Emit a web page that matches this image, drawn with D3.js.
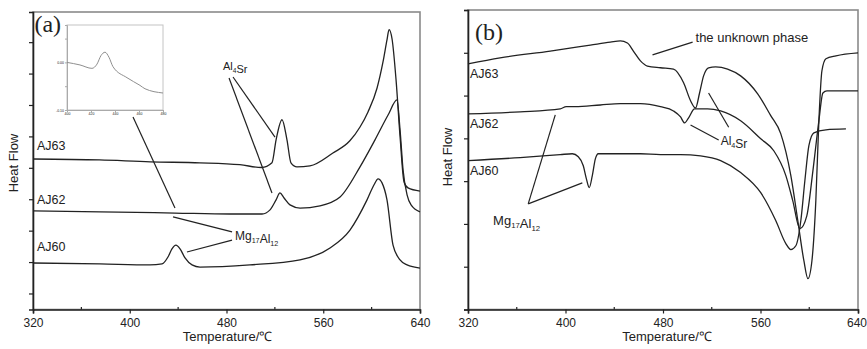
<!DOCTYPE html>
<html>
<head>
<meta charset="utf-8">
<script src="https://cdn.jsdelivr.net/npm/d3@7"></script>
<style>
  body { margin: 0; background: #fff; }
  svg { display: block; }
  text { font-family: "Liberation Sans", Arial, sans-serif; fill: #222; }
</style>
</head>
<body>
<svg id="chart" width="867" height="349"></svg>
<script>
// ---- data (temperature in C, heat flow in arbitrary units) ----
const xTicks = [320, 400, 480, 560, 640];
const xMinorTicks = [360, 440, 520, 600];
const yTicksA = [0, 10, 20, 30, 40, 50, 60, 70, 80];
const yTicksB = [0, 10, 20, 30, 40, 50, 60, 70];

// panel (a)
const a_AJ63 = [[320,42.8],[375,42.5],[417,41.9],[458,41.6],[491,41.0],[509,40.1],[517.6,41.6],[521,48.9],[525.9,55.3],[530,48.9],[533.3,41.6],[538.3,40.3],[549,40.6],[568,44.7],[582,48.6],[590.4,53.0],[597,57.8],[604.5,65.4],[609.4,73.7],[612.7,80.7],[614.4,84.0],[616.9,81],[620.2,68],[623.5,50],[626.8,35.5],[630.1,33.6],[640,32.6]];
const a_AJ62 = [[320,26.3],[375.4,26.0],[437.4,25.6],[482.9,25.3],[509.4,25.3],[516,26.6],[521,29.8],[524.2,32.0],[527.6,30.4],[532.5,28.2],[540.8,27.2],[557.3,27.9],[573.9,30.7],[590.4,40.3],[602.8,48.9],[613.6,56.8],[621,61.6],[623.5,52.1],[626,39.3],[629.3,31.4],[632.6,28.2],[640,26.0]];
const a_AJ60 = [[320,9.7],[375.4,9.4],[416.7,9.1],[426.7,9.4],[431.6,11.6],[434.9,14.2],[438.2,15.4],[441.6,14.2],[445.7,11.3],[451.5,9.1],[458.1,8.4],[499.4,9.1],[540.8,10.7],[565.6,14.5],[582.1,20.2],[596.2,29.8],[602,34.6],[605.3,36.5],[608.6,35.2],[612.7,29.8],[617.7,15.4],[623.5,10.7],[629.3,9.1],[640,8.1]];

// inset of panel (a)
const insetT = [400, 410.8, 420.8, 425, 428.3, 431.7, 435, 438.3, 450, 460.8, 465, 480];
const insetV = [5.6, 5.3, 4.9, 5.4, 6.4, 6.8, 6.2, 5.1, 3.8, 2.9, 2.5, 2.0];
const insetXTicks = [400, 420, 440, 460, 480];

// panel (b)
const b_AJ63 = [[320,57.4],[346.3,58.8],[387.5,60.4],[420.4,61.8],[436.8,62.5],[445,62.8],[450.8,62.3],[455.7,60.4],[461.5,58.1],[467.2,56.9],[477.9,56.5],[488.6,56.2],[496.9,53.0],[502.6,48.8],[506.7,47.1],[510,50.6],[513.3,54.6],[517.4,56.5],[523.2,56.7],[533,56.2],[543.7,54.6],[557.7,50.4],[568.4,45.3],[576.6,41.1],[584.9,31.3],[590.6,20.8],[595.6,11.4],[598.9,7.2],[602.2,11.4],[605.4,25.4],[607.9,44.1],[610.4,55.8],[613.7,58.6],[621.9,59.3],[640,60.0]];
const b_AJ62 = [[320,45.7],[362.8,46.2],[395.7,46.9],[400.6,47.4],[408,47.4],[428.6,47.8],[445,48.1],[461.5,48.1],[477.9,47.4],[488.6,46.4],[494.4,45.0],[497.7,43.6],[501,44.8],[505.9,46.9],[516.6,46.9],[527.3,46.4],[543.7,44.1],[560.2,39.9],[570.9,37.1],[580.8,31.3],[586.5,25.4],[592.3,18.9],[598,21.9],[603,32.4],[607.9,44.1],[611.2,50.6],[614.5,51.1],[640,51.1]];
const b_AJ60 = [[320,34.8],[362.8,35.5],[395.7,36.2],[405.6,36.4],[410.5,35.7],[414.6,33.6],[417.1,30.6],[419.5,28.5],[422,31.3],[424.5,35.2],[426.9,36.4],[445,36.4],[461.5,36.4],[477.9,36.2],[494.4,36.2],[510.8,35.9],[527.3,34.8],[543.7,32.0],[560.2,27.3],[572.5,20.8],[580.8,15.4],[584.9,14.0],[589,14.9],[593.1,20.8],[596.4,30.1],[599.7,38.3],[603.8,41.3],[613.7,42.0],[630.1,42.2]];

const svg = d3.select('#chart');
const ink = '#222';

function drawPanel(p) {
  const x = d3.scaleLinear().domain([320, 640]).range([p.left, p.right]);
  const y = d3.scaleLinear().domain(p.yDomain).range([p.bottom, p.top]);
  const g = svg.append('g');

  // frame (top / right lighter)
  g.append('rect')
    .attr('x', p.left).attr('y', p.top)
    .attr('width', p.right - p.left).attr('height', p.bottom - p.top)
    .attr('fill', 'none').attr('stroke', '#8a8a8a').attr('stroke-width', 1.6);

  // x axis
  const xAxis = g.append('g')
    .attr('transform', 'translate(0,' + p.bottom + ')')
    .call(d3.axisBottom(x).tickValues(xTicks).tickSize(4).tickPadding(5).tickFormat(d3.format('d')));
  xAxis.select('.domain').attr('stroke', ink).attr('stroke-width', 1.6);
  xAxis.selectAll('.tick line').attr('stroke', ink).attr('stroke-width', 1.2);
  xAxis.selectAll('.tick text').attr('font-size', 12).attr('fill', ink)
    .attr('font-family', '"Liberation Sans", Arial, sans-serif')
    .attr('dx', (d) => (d === 640 ? p.lastTickShift : 0));
  g.selectAll('line.minor')
    .data(xMinorTicks)
    .enter()
    .append('line')
      .attr('class', 'minor')
      .attr('x1', (d) => x(d)).attr('x2', (d) => x(d))
      .attr('y1', p.bottom - 2.5).attr('y2', p.bottom)
      .attr('stroke', ink).attr('stroke-width', 1.2);

  // y axis (ticks only, no labels)
  const yAxis = g.append('g')
    .attr('transform', 'translate(' + p.left + ',0)')
    .call(d3.axisLeft(y).tickValues(p.yTicks).tickSize(4).tickFormat(''));
  yAxis.select('.domain').attr('stroke', ink).attr('stroke-width', 1.6);
  yAxis.selectAll('.tick line').attr('stroke', ink).attr('stroke-width', 1.2);

  // axis titles
  g.append('text')
    .attr('x', (p.left + p.right) / 2 + p.xTitleShift).attr('y', 341)
    .attr('text-anchor', 'middle').attr('font-size', 13)
    .text('Temperature/\u2103');
  g.append('text')
    .attr('transform', 'translate(' + p.yTitleX + ',' + p.yTitleY + ') rotate(-90)')
    .attr('text-anchor', 'middle').attr('font-size', 13)
    .text('Heat Flow');

  // curves
  const line = d3.line()
    .x((d) => x(d[0]))
    .y((d) => y(d[1]))
    .curve(d3.curveMonotoneX);
  p.series.forEach((s) => {
    g.append('path')
      .datum(s.data)
      .attr('d', line)
      .attr('fill', 'none')
      .attr('stroke', ink)
      .attr('stroke-width', 1.3)
      .attr('stroke-linejoin', 'round');
    g.append('text')
      .attr('x', x(s.label[0])).attr('y', y(s.label[1]))
      .attr('font-size', 12.5)
      .text(s.name);
  });

  // panel letter
  g.append('text')
    .attr('x', x(p.letterPos[0])).attr('y', y(p.letterPos[1]))
    .attr('font-size', 24)
    .style('font-family', '"Liberation Serif", "Times New Roman", serif')
    .text(p.letter);

  // annotation leader lines
  p.leaders.forEach((l) => {
    g.append('line')
      .attr('x1', x(l[0])).attr('y1', y(l[1]))
      .attr('x2', x(l[2])).attr('y2', y(l[3]))
      .attr('stroke', ink).attr('stroke-width', 1.2);
  });

  // annotation texts with subscripts
  p.notes.forEach((n) => {
    const t = g.append('text')
      .attr('x', x(n.at[0])).attr('y', y(n.at[1]))
      .attr('font-size', n.size);
    n.parts.forEach((part) => {
      if (part.sub) {
        t.append('tspan').attr('font-size', n.size * 0.6).attr('dy', 3).text(part.sub);
        t.append('tspan').attr('dy', -3).text('');
      } else {
        t.append('tspan').text(part.t);
      }
    });
  });

  return { x: x, y: y, g: g };
}

const mg17al12 = [{ t: 'Mg' }, { sub: '17' }, { t: 'Al' }, { sub: '12' }];
const al4sr = [{ t: 'Al' }, { sub: '4' }, { t: 'Sr' }];

const panelA = drawPanel({
  left: 33, right: 420, top: 12, bottom: 309.5,
  yDomain: [-5.1, 89.6], yTicks: yTicksA,
  yTitleX: 18, yTitleY: 163, xTitleShift: 1, lastTickShift: 0,
  letter: '(a)', letterPos: [321.2, 83.3],
  series: [
    { name: 'AJ63', data: a_AJ63, label: [323.3, 45.7] },
    { name: 'AJ62', data: a_AJ62, label: [323.3, 28.5] },
    { name: 'AJ60', data: a_AJ60, label: [323.3, 13.5] }
  ],
  leaders: [
    [485.4, 68.9, 520.1, 49.8],
    [482.1, 68.6, 517.6, 32.0],
    [435.8, 24.4, 484.6, 19.6],
    [447.3, 13.2, 484.6, 17.0],
    [402.7, 56.2, 437.4, 27.2]
  ],
  notes: [
    { at: [477.1, 71.2], size: 11, parts: al4sr },
    { at: [487.0, 17.0], size: 12, parts: mg17al12 }
  ]
});

const panelB = drawPanel({
  left: 468, right: 858, top: 10, bottom: 309.5,
  yDomain: [0, 70], yTicks: yTicksB,
  yTitleX: 452, yTitleY: 157, xTitleShift: 4, lastTickShift: -1.5,
  letter: '(b)', letterPos: [325.8, 63.0],
  series: [
    { name: 'AJ63', data: b_AJ63, label: [321.6, 54.1] },
    { name: 'AJ62', data: b_AJ62, label: [321.6, 42.4] },
    { name: 'AJ60', data: b_AJ60, label: [321.6, 31.4] }
  ],
  leaders: [
    [471.4, 59.5, 504.3, 62.5],
    [517.4, 50.6, 533.9, 42.6],
    [502.6, 43.1, 525.7, 39.6],
    [369.4, 24.7, 391.6, 45.5],
    [369.4, 24.7, 413.8, 29.6]
  ],
  notes: [
    { at: [506.7, 62.5], size: 13, parts: [{ t: 'the unknown phase' }] },
    { at: [527.3, 38.4], size: 12, parts: al4sr },
    { at: [340.6, 19.7], size: 13, parts: mg17al12 }
  ]
});

// inset inside panel (a)
const ix = d3.scaleLinear().domain([400, 480]).range([67, 163]);
const iy = d3.scaleLinear().domain([0, 10]).range([110, 25]);
const inset = panelA.g.append('g');
inset.append('rect')
  .attr('x', 67).attr('y', 25).attr('width', 96).attr('height', 85)
  .attr('fill', '#fff').attr('stroke', '#c4c4c4').attr('stroke-width', 1);
const ixAxis = inset.append('g')
  .attr('transform', 'translate(0,110)')
  .call(d3.axisBottom(ix).tickValues(insetXTicks).tickSize(2).tickPadding(1));
ixAxis.select('.domain').attr('stroke', '#aaa');
ixAxis.selectAll('.tick line').attr('stroke', '#aaa');
ixAxis.selectAll('.tick text').attr('font-size', 3.5).attr('fill', '#999');
const iyAxis = inset.append('g')
  .attr('transform', 'translate(67,0)')
  .call(d3.axisLeft(iy).tickValues([0, 2.8, 5.6, 8.4]).tickSize(2).tickPadding(1)
    .tickFormat((d) => d === 5.6 ? '0.00' : (d === 0 ? '-0.10' : '')));
iyAxis.select('.domain').attr('stroke', '#aaa');
iyAxis.selectAll('.tick line').attr('stroke', '#aaa');
iyAxis.selectAll('.tick text').attr('font-size', 3.5).attr('fill', '#999');
inset.append('path')
  .datum(insetT.map((t, i) => [t, insetV[i]]))
  .attr('d', d3.line().x((d) => ix(d[0])).y((d) => iy(d[1])).curve(d3.curveMonotoneX))
  .attr('fill', 'none').attr('stroke', '#8f8f8f').attr('stroke-width', 1);
</script>
</body>
</html>
